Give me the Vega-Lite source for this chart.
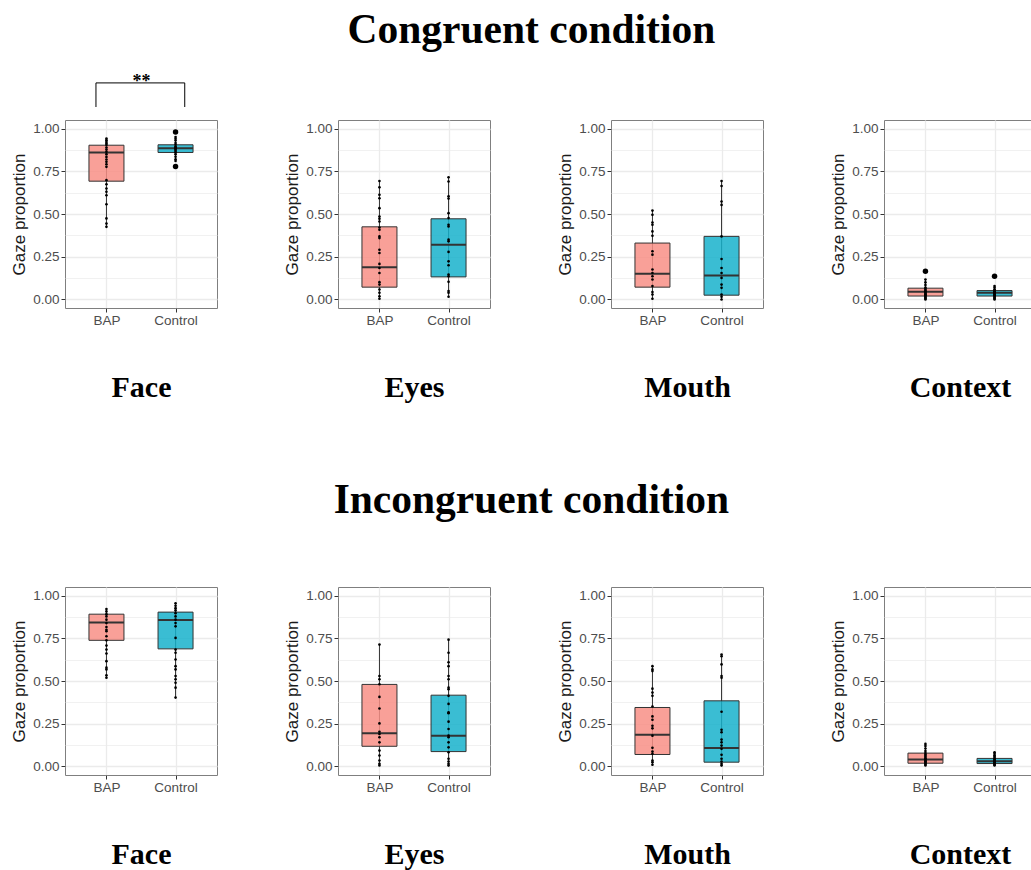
{
"$schema": "https://vega.github.io/schema/vega-lite/v6.json",
"background": "white",
"padding": {"left": 10, "top": 9, "right": 0, "bottom": 0},
"config": {
 "view": {"stroke": "#7f7f7f", "strokeWidth": 1},
 "axis": {"domain": false, "tickColor": "#333333", "tickSize": 4, "tickWidth": 1, "labelFont": "Liberation Sans", "labelFontSize": 13.5, "labelColor": "#4d4d4d", "gridColor": "#EBEBEB", "gridWidth": 1.3},
 "axisX": {"labelPadding": 1, "titleFont": "Liberation Serif", "titleFontSize": 30, "titleFontWeight": "bold", "titleColor": "#000000", "titlePadding": 46},
 "axisY": {"labelPadding": 2, "titleFont": "Liberation Sans", "titleFontSize": 17, "titleFontWeight": "normal", "titleColor": "#1a1a1a", "titlePadding": 4},
 "title": {"font": "Liberation Serif", "fontSize": 41.5, "fontWeight": "bold", "color": "#000000", "anchor": "middle"}
},
"datasets": {
 "box": [
  {"c":"Congruent","r":"Face","g":"BAP","lo":0.425,"q1":0.692,"med":0.86,"q3":0.9025,"hi":0.94},
  {"c":"Congruent","r":"Face","g":"Control","lo":0.81,"q1":0.86,"med":0.885,"q3":0.905,"hi":0.955},
  {"c":"Congruent","r":"Eyes","g":"BAP","lo":0.0,"q1":0.072,"med":0.188,"q3":0.425,"hi":0.693},
  {"c":"Congruent","r":"Eyes","g":"Control","lo":0.016,"q1":0.132,"med":0.32,"q3":0.472,"hi":0.715},
  {"c":"Congruent","r":"Mouth","g":"BAP","lo":0.0,"q1":0.072,"med":0.15,"q3":0.33,"hi":0.52},
  {"c":"Congruent","r":"Mouth","g":"Control","lo":0.0,"q1":0.025,"med":0.14,"q3":0.369,"hi":0.693},
  {"c":"Congruent","r":"Context","g":"BAP","lo":0.0,"q1":0.02,"med":0.045,"q3":0.066,"hi":0.117},
  {"c":"Congruent","r":"Context","g":"Control","lo":0.0,"q1":0.02,"med":0.039,"q3":0.052,"hi":0.078},
  {"c":"Incongruent","r":"Face","g":"BAP","lo":0.519,"q1":0.738,"med":0.843,"q3":0.891,"hi":0.92},
  {"c":"Incongruent","r":"Face","g":"Control","lo":0.403,"q1":0.688,"med":0.857,"q3":0.903,"hi":0.955},
  {"c":"Incongruent","r":"Eyes","g":"BAP","lo":0.006,"q1":0.118,"med":0.194,"q3":0.48,"hi":0.713},
  {"c":"Incongruent","r":"Eyes","g":"Control","lo":0.0,"q1":0.087,"med":0.18,"q3":0.417,"hi":0.742},
  {"c":"Incongruent","r":"Mouth","g":"BAP","lo":0.006,"q1":0.07,"med":0.186,"q3":0.345,"hi":0.587},
  {"c":"Incongruent","r":"Mouth","g":"Control","lo":0.0,"q1":0.025,"med":0.108,"q3":0.384,"hi":0.655},
  {"c":"Incongruent","r":"Context","g":"BAP","lo":0.006,"q1":0.019,"med":0.041,"q3":0.078,"hi":0.132},
  {"c":"Incongruent","r":"Context","g":"Control","lo":0.006,"q1":0.017,"med":0.031,"q3":0.047,"hi":0.083}
 ],
 "out": [
  {"c":"Congruent","r":"Face","g":"Control","v":0.98},
  {"c":"Congruent","r":"Face","g":"Control","v":0.778},
  {"c":"Congruent","r":"Context","g":"BAP","v":0.165},
  {"c":"Congruent","r":"Context","g":"Control","v":0.136}
 ],
 "sig": [
  {"a":"BAP","b":"Control","top":1.267,"bot":1.126,"lab":"**"}
 ],
 "pts": [
  {"c":"Congruent","r":"Face","g":"BAP","v":0.942},{"c":"Congruent","r":"Face","g":"BAP","v":0.932},{"c":"Congruent","r":"Face","g":"BAP","v":0.922},{"c":"Congruent","r":"Face","g":"BAP","v":0.912},{"c":"Congruent","r":"Face","g":"BAP","v":0.903},{"c":"Congruent","r":"Face","g":"BAP","v":0.889},{"c":"Congruent","r":"Face","g":"BAP","v":0.877},{"c":"Congruent","r":"Face","g":"BAP","v":0.864},{"c":"Congruent","r":"Face","g":"BAP","v":0.85},{"c":"Congruent","r":"Face","g":"BAP","v":0.834},{"c":"Congruent","r":"Face","g":"BAP","v":0.819},{"c":"Congruent","r":"Face","g":"BAP","v":0.805},{"c":"Congruent","r":"Face","g":"BAP","v":0.791},{"c":"Congruent","r":"Face","g":"BAP","v":0.776},{"c":"Congruent","r":"Face","g":"BAP","v":0.698},{"c":"Congruent","r":"Face","g":"BAP","v":0.674},{"c":"Congruent","r":"Face","g":"BAP","v":0.649},{"c":"Congruent","r":"Face","g":"BAP","v":0.63},{"c":"Congruent","r":"Face","g":"BAP","v":0.61},{"c":"Congruent","r":"Face","g":"BAP","v":0.557},{"c":"Congruent","r":"Face","g":"BAP","v":0.474},{"c":"Congruent","r":"Face","g":"BAP","v":0.444},{"c":"Congruent","r":"Face","g":"BAP","v":0.425},
  {"c":"Congruent","r":"Face","g":"Control","v":0.98},{"c":"Congruent","r":"Face","g":"Control","v":0.95},{"c":"Congruent","r":"Face","g":"Control","v":0.94},{"c":"Congruent","r":"Face","g":"Control","v":0.93},{"c":"Congruent","r":"Face","g":"Control","v":0.915},{"c":"Congruent","r":"Face","g":"Control","v":0.905},{"c":"Congruent","r":"Face","g":"Control","v":0.895},{"c":"Congruent","r":"Face","g":"Control","v":0.89},{"c":"Congruent","r":"Face","g":"Control","v":0.885},{"c":"Congruent","r":"Face","g":"Control","v":0.878},{"c":"Congruent","r":"Face","g":"Control","v":0.87},{"c":"Congruent","r":"Face","g":"Control","v":0.862},{"c":"Congruent","r":"Face","g":"Control","v":0.85},{"c":"Congruent","r":"Face","g":"Control","v":0.835},{"c":"Congruent","r":"Face","g":"Control","v":0.82},{"c":"Congruent","r":"Face","g":"Control","v":0.81},{"c":"Congruent","r":"Face","g":"Control","v":0.778},
  {"c":"Congruent","r":"Eyes","g":"BAP","v":0.693},{"c":"Congruent","r":"Eyes","g":"BAP","v":0.656},{"c":"Congruent","r":"Eyes","g":"BAP","v":0.612},{"c":"Congruent","r":"Eyes","g":"BAP","v":0.592},{"c":"Congruent","r":"Eyes","g":"BAP","v":0.534},{"c":"Congruent","r":"Eyes","g":"BAP","v":0.485},{"c":"Congruent","r":"Eyes","g":"BAP","v":0.472},{"c":"Congruent","r":"Eyes","g":"BAP","v":0.456},{"c":"Congruent","r":"Eyes","g":"BAP","v":0.421},{"c":"Congruent","r":"Eyes","g":"BAP","v":0.408},{"c":"Congruent","r":"Eyes","g":"BAP","v":0.369},{"c":"Congruent","r":"Eyes","g":"BAP","v":0.359},{"c":"Congruent","r":"Eyes","g":"BAP","v":0.291},{"c":"Congruent","r":"Eyes","g":"BAP","v":0.272},{"c":"Congruent","r":"Eyes","g":"BAP","v":0.208},{"c":"Congruent","r":"Eyes","g":"BAP","v":0.184},{"c":"Congruent","r":"Eyes","g":"BAP","v":0.155},{"c":"Congruent","r":"Eyes","g":"BAP","v":0.101},{"c":"Congruent","r":"Eyes","g":"BAP","v":0.087},{"c":"Congruent","r":"Eyes","g":"BAP","v":0.058},{"c":"Congruent","r":"Eyes","g":"BAP","v":0.039},{"c":"Congruent","r":"Eyes","g":"BAP","v":0.019},{"c":"Congruent","r":"Eyes","g":"BAP","v":0.004},
  {"c":"Congruent","r":"Eyes","g":"Control","v":0.715},{"c":"Congruent","r":"Eyes","g":"Control","v":0.69},{"c":"Congruent","r":"Eyes","g":"Control","v":0.604},{"c":"Congruent","r":"Eyes","g":"Control","v":0.59},{"c":"Congruent","r":"Eyes","g":"Control","v":0.505},{"c":"Congruent","r":"Eyes","g":"Control","v":0.476},{"c":"Congruent","r":"Eyes","g":"Control","v":0.437},{"c":"Congruent","r":"Eyes","g":"Control","v":0.427},{"c":"Congruent","r":"Eyes","g":"Control","v":0.35},{"c":"Congruent","r":"Eyes","g":"Control","v":0.34},{"c":"Congruent","r":"Eyes","g":"Control","v":0.278},{"c":"Congruent","r":"Eyes","g":"Control","v":0.223},{"c":"Congruent","r":"Eyes","g":"Control","v":0.2},{"c":"Congruent","r":"Eyes","g":"Control","v":0.146},{"c":"Congruent","r":"Eyes","g":"Control","v":0.136},{"c":"Congruent","r":"Eyes","g":"Control","v":0.103},{"c":"Congruent","r":"Eyes","g":"Control","v":0.049},{"c":"Congruent","r":"Eyes","g":"Control","v":0.039},{"c":"Congruent","r":"Eyes","g":"Control","v":0.016},
  {"c":"Congruent","r":"Mouth","g":"BAP","v":0.52},{"c":"Congruent","r":"Mouth","g":"BAP","v":0.495},{"c":"Congruent","r":"Mouth","g":"BAP","v":0.45},{"c":"Congruent","r":"Mouth","g":"BAP","v":0.437},{"c":"Congruent","r":"Mouth","g":"BAP","v":0.398},{"c":"Congruent","r":"Mouth","g":"BAP","v":0.373},{"c":"Congruent","r":"Mouth","g":"BAP","v":0.282},{"c":"Congruent","r":"Mouth","g":"BAP","v":0.262},{"c":"Congruent","r":"Mouth","g":"BAP","v":0.175},{"c":"Congruent","r":"Mouth","g":"BAP","v":0.155},{"c":"Congruent","r":"Mouth","g":"BAP","v":0.136},{"c":"Congruent","r":"Mouth","g":"BAP","v":0.117},{"c":"Congruent","r":"Mouth","g":"BAP","v":0.078},{"c":"Congruent","r":"Mouth","g":"BAP","v":0.043},{"c":"Congruent","r":"Mouth","g":"BAP","v":0.029},{"c":"Congruent","r":"Mouth","g":"BAP","v":0.004},
  {"c":"Congruent","r":"Mouth","g":"Control","v":0.693},{"c":"Congruent","r":"Mouth","g":"Control","v":0.664},{"c":"Congruent","r":"Mouth","g":"Control","v":0.573},{"c":"Congruent","r":"Mouth","g":"Control","v":0.553},{"c":"Congruent","r":"Mouth","g":"Control","v":0.369},{"c":"Congruent","r":"Mouth","g":"Control","v":0.237},{"c":"Congruent","r":"Mouth","g":"Control","v":0.184},{"c":"Congruent","r":"Mouth","g":"Control","v":0.155},{"c":"Congruent","r":"Mouth","g":"Control","v":0.126},{"c":"Congruent","r":"Mouth","g":"Control","v":0.087},{"c":"Congruent","r":"Mouth","g":"Control","v":0.068},{"c":"Congruent","r":"Mouth","g":"Control","v":0.029},{"c":"Congruent","r":"Mouth","g":"Control","v":0.016},{"c":"Congruent","r":"Mouth","g":"Control","v":0.0},
  {"c":"Congruent","r":"Context","g":"BAP","v":0.165},{"c":"Congruent","r":"Context","g":"BAP","v":0.117},{"c":"Congruent","r":"Context","g":"BAP","v":0.1},{"c":"Congruent","r":"Context","g":"BAP","v":0.085},{"c":"Congruent","r":"Context","g":"BAP","v":0.07},{"c":"Congruent","r":"Context","g":"BAP","v":0.062},{"c":"Congruent","r":"Context","g":"BAP","v":0.055},{"c":"Congruent","r":"Context","g":"BAP","v":0.05},{"c":"Congruent","r":"Context","g":"BAP","v":0.045},{"c":"Congruent","r":"Context","g":"BAP","v":0.04},{"c":"Congruent","r":"Context","g":"BAP","v":0.035},{"c":"Congruent","r":"Context","g":"BAP","v":0.03},{"c":"Congruent","r":"Context","g":"BAP","v":0.025},{"c":"Congruent","r":"Context","g":"BAP","v":0.02},{"c":"Congruent","r":"Context","g":"BAP","v":0.015},{"c":"Congruent","r":"Context","g":"BAP","v":0.01},{"c":"Congruent","r":"Context","g":"BAP","v":0.005},{"c":"Congruent","r":"Context","g":"BAP","v":0.0},
  {"c":"Congruent","r":"Context","g":"Control","v":0.136},{"c":"Congruent","r":"Context","g":"Control","v":0.078},{"c":"Congruent","r":"Context","g":"Control","v":0.07},{"c":"Congruent","r":"Context","g":"Control","v":0.06},{"c":"Congruent","r":"Context","g":"Control","v":0.052},{"c":"Congruent","r":"Context","g":"Control","v":0.048},{"c":"Congruent","r":"Context","g":"Control","v":0.044},{"c":"Congruent","r":"Context","g":"Control","v":0.04},{"c":"Congruent","r":"Context","g":"Control","v":0.036},{"c":"Congruent","r":"Context","g":"Control","v":0.032},{"c":"Congruent","r":"Context","g":"Control","v":0.028},{"c":"Congruent","r":"Context","g":"Control","v":0.024},{"c":"Congruent","r":"Context","g":"Control","v":0.02},{"c":"Congruent","r":"Context","g":"Control","v":0.015},{"c":"Congruent","r":"Context","g":"Control","v":0.01},{"c":"Congruent","r":"Context","g":"Control","v":0.005},{"c":"Congruent","r":"Context","g":"Control","v":0.0},
  {"c":"Incongruent","r":"Face","g":"BAP","v":0.921},{"c":"Incongruent","r":"Face","g":"BAP","v":0.907},{"c":"Incongruent","r":"Face","g":"BAP","v":0.891},{"c":"Incongruent","r":"Face","g":"BAP","v":0.878},{"c":"Incongruent","r":"Face","g":"BAP","v":0.859},{"c":"Incongruent","r":"Face","g":"BAP","v":0.839},{"c":"Incongruent","r":"Face","g":"BAP","v":0.816},{"c":"Incongruent","r":"Face","g":"BAP","v":0.8},{"c":"Incongruent","r":"Face","g":"BAP","v":0.791},{"c":"Incongruent","r":"Face","g":"BAP","v":0.762},{"c":"Incongruent","r":"Face","g":"BAP","v":0.738},{"c":"Incongruent","r":"Face","g":"BAP","v":0.707},{"c":"Incongruent","r":"Face","g":"BAP","v":0.684},{"c":"Incongruent","r":"Face","g":"BAP","v":0.661},{"c":"Incongruent","r":"Face","g":"BAP","v":0.616},{"c":"Incongruent","r":"Face","g":"BAP","v":0.578},{"c":"Incongruent","r":"Face","g":"BAP","v":0.568},{"c":"Incongruent","r":"Face","g":"BAP","v":0.533},{"c":"Incongruent","r":"Face","g":"BAP","v":0.519},
  {"c":"Incongruent","r":"Face","g":"Control","v":0.955},{"c":"Incongruent","r":"Face","g":"Control","v":0.94},{"c":"Incongruent","r":"Face","g":"Control","v":0.926},{"c":"Incongruent","r":"Face","g":"Control","v":0.913},{"c":"Incongruent","r":"Face","g":"Control","v":0.897},{"c":"Incongruent","r":"Face","g":"Control","v":0.878},{"c":"Incongruent","r":"Face","g":"Control","v":0.859},{"c":"Incongruent","r":"Face","g":"Control","v":0.839},{"c":"Incongruent","r":"Face","g":"Control","v":0.82},{"c":"Incongruent","r":"Face","g":"Control","v":0.752},{"c":"Incongruent","r":"Face","g":"Control","v":0.684},{"c":"Incongruent","r":"Face","g":"Control","v":0.665},{"c":"Incongruent","r":"Face","g":"Control","v":0.626},{"c":"Incongruent","r":"Face","g":"Control","v":0.587},{"c":"Incongruent","r":"Face","g":"Control","v":0.568},{"c":"Incongruent","r":"Face","g":"Control","v":0.529},{"c":"Incongruent","r":"Face","g":"Control","v":0.51},{"c":"Incongruent","r":"Face","g":"Control","v":0.49},{"c":"Incongruent","r":"Face","g":"Control","v":0.461},{"c":"Incongruent","r":"Face","g":"Control","v":0.403},
  {"c":"Incongruent","r":"Eyes","g":"BAP","v":0.713},{"c":"Incongruent","r":"Eyes","g":"BAP","v":0.529},{"c":"Incongruent","r":"Eyes","g":"BAP","v":0.51},{"c":"Incongruent","r":"Eyes","g":"BAP","v":0.481},{"c":"Incongruent","r":"Eyes","g":"BAP","v":0.407},{"c":"Incongruent","r":"Eyes","g":"BAP","v":0.339},{"c":"Incongruent","r":"Eyes","g":"BAP","v":0.252},{"c":"Incongruent","r":"Eyes","g":"BAP","v":0.203},{"c":"Incongruent","r":"Eyes","g":"BAP","v":0.19},{"c":"Incongruent","r":"Eyes","g":"BAP","v":0.171},{"c":"Incongruent","r":"Eyes","g":"BAP","v":0.141},{"c":"Incongruent","r":"Eyes","g":"BAP","v":0.093},{"c":"Incongruent","r":"Eyes","g":"BAP","v":0.064},{"c":"Incongruent","r":"Eyes","g":"BAP","v":0.035},{"c":"Incongruent","r":"Eyes","g":"BAP","v":0.016},{"c":"Incongruent","r":"Eyes","g":"BAP","v":0.006},
  {"c":"Incongruent","r":"Eyes","g":"Control","v":0.742},{"c":"Incongruent","r":"Eyes","g":"Control","v":0.665},{"c":"Incongruent","r":"Eyes","g":"Control","v":0.61},{"c":"Incongruent","r":"Eyes","g":"Control","v":0.587},{"c":"Incongruent","r":"Eyes","g":"Control","v":0.529},{"c":"Incongruent","r":"Eyes","g":"Control","v":0.51},{"c":"Incongruent","r":"Eyes","g":"Control","v":0.461},{"c":"Incongruent","r":"Eyes","g":"Control","v":0.452},{"c":"Incongruent","r":"Eyes","g":"Control","v":0.413},{"c":"Incongruent","r":"Eyes","g":"Control","v":0.366},{"c":"Incongruent","r":"Eyes","g":"Control","v":0.316},{"c":"Incongruent","r":"Eyes","g":"Control","v":0.312},{"c":"Incongruent","r":"Eyes","g":"Control","v":0.262},{"c":"Incongruent","r":"Eyes","g":"Control","v":0.219},{"c":"Incongruent","r":"Eyes","g":"Control","v":0.18},{"c":"Incongruent","r":"Eyes","g":"Control","v":0.171},{"c":"Incongruent","r":"Eyes","g":"Control","v":0.141},{"c":"Incongruent","r":"Eyes","g":"Control","v":0.112},{"c":"Incongruent","r":"Eyes","g":"Control","v":0.083},{"c":"Incongruent","r":"Eyes","g":"Control","v":0.045},{"c":"Incongruent","r":"Eyes","g":"Control","v":0.029},{"c":"Incongruent","r":"Eyes","g":"Control","v":0.016},{"c":"Incongruent","r":"Eyes","g":"Control","v":0.006},
  {"c":"Incongruent","r":"Mouth","g":"BAP","v":0.587},{"c":"Incongruent","r":"Mouth","g":"BAP","v":0.568},{"c":"Incongruent","r":"Mouth","g":"BAP","v":0.558},{"c":"Incongruent","r":"Mouth","g":"BAP","v":0.455},{"c":"Incongruent","r":"Mouth","g":"BAP","v":0.432},{"c":"Incongruent","r":"Mouth","g":"BAP","v":0.413},{"c":"Incongruent","r":"Mouth","g":"BAP","v":0.351},{"c":"Incongruent","r":"Mouth","g":"BAP","v":0.293},{"c":"Incongruent","r":"Mouth","g":"BAP","v":0.273},{"c":"Incongruent","r":"Mouth","g":"BAP","v":0.238},{"c":"Incongruent","r":"Mouth","g":"BAP","v":0.223},{"c":"Incongruent","r":"Mouth","g":"BAP","v":0.18},{"c":"Incongruent","r":"Mouth","g":"BAP","v":0.109},{"c":"Incongruent","r":"Mouth","g":"BAP","v":0.087},{"c":"Incongruent","r":"Mouth","g":"BAP","v":0.074},{"c":"Incongruent","r":"Mouth","g":"BAP","v":0.035},{"c":"Incongruent","r":"Mouth","g":"BAP","v":0.025},{"c":"Incongruent","r":"Mouth","g":"BAP","v":0.01},
  {"c":"Incongruent","r":"Mouth","g":"Control","v":0.655},{"c":"Incongruent","r":"Mouth","g":"Control","v":0.645},{"c":"Incongruent","r":"Mouth","g":"Control","v":0.597},{"c":"Incongruent","r":"Mouth","g":"Control","v":0.529},{"c":"Incongruent","r":"Mouth","g":"Control","v":0.519},{"c":"Incongruent","r":"Mouth","g":"Control","v":0.32},{"c":"Incongruent","r":"Mouth","g":"Control","v":0.215},{"c":"Incongruent","r":"Mouth","g":"Control","v":0.2},{"c":"Incongruent","r":"Mouth","g":"Control","v":0.157},{"c":"Incongruent","r":"Mouth","g":"Control","v":0.141},{"c":"Incongruent","r":"Mouth","g":"Control","v":0.122},{"c":"Incongruent","r":"Mouth","g":"Control","v":0.103},{"c":"Incongruent","r":"Mouth","g":"Control","v":0.068},{"c":"Incongruent","r":"Mouth","g":"Control","v":0.045},{"c":"Incongruent","r":"Mouth","g":"Control","v":0.029},{"c":"Incongruent","r":"Mouth","g":"Control","v":0.016},{"c":"Incongruent","r":"Mouth","g":"Control","v":0.006},
  {"c":"Incongruent","r":"Context","g":"BAP","v":0.132},{"c":"Incongruent","r":"Context","g":"BAP","v":0.12},{"c":"Incongruent","r":"Context","g":"BAP","v":0.105},{"c":"Incongruent","r":"Context","g":"BAP","v":0.09},{"c":"Incongruent","r":"Context","g":"BAP","v":0.078},{"c":"Incongruent","r":"Context","g":"BAP","v":0.07},{"c":"Incongruent","r":"Context","g":"BAP","v":0.062},{"c":"Incongruent","r":"Context","g":"BAP","v":0.055},{"c":"Incongruent","r":"Context","g":"BAP","v":0.048},{"c":"Incongruent","r":"Context","g":"BAP","v":0.041},{"c":"Incongruent","r":"Context","g":"BAP","v":0.035},{"c":"Incongruent","r":"Context","g":"BAP","v":0.03},{"c":"Incongruent","r":"Context","g":"BAP","v":0.025},{"c":"Incongruent","r":"Context","g":"BAP","v":0.019},{"c":"Incongruent","r":"Context","g":"BAP","v":0.012},{"c":"Incongruent","r":"Context","g":"BAP","v":0.006},
  {"c":"Incongruent","r":"Context","g":"Control","v":0.083},{"c":"Incongruent","r":"Context","g":"Control","v":0.075},{"c":"Incongruent","r":"Context","g":"Control","v":0.065},{"c":"Incongruent","r":"Context","g":"Control","v":0.058},{"c":"Incongruent","r":"Context","g":"Control","v":0.05},{"c":"Incongruent","r":"Context","g":"Control","v":0.045},{"c":"Incongruent","r":"Context","g":"Control","v":0.04},{"c":"Incongruent","r":"Context","g":"Control","v":0.035},{"c":"Incongruent","r":"Context","g":"Control","v":0.031},{"c":"Incongruent","r":"Context","g":"Control","v":0.027},{"c":"Incongruent","r":"Context","g":"Control","v":0.023},{"c":"Incongruent","r":"Context","g":"Control","v":0.019},{"c":"Incongruent","r":"Context","g":"Control","v":0.015},{"c":"Incongruent","r":"Context","g":"Control","v":0.01},{"c":"Incongruent","r":"Context","g":"Control","v":0.006}
 ]
},
"bounds": "flush",
"spacing": 467,
"vconcat": [
 {"title": {"text": "Congruent condition", "offset": 21, "dx": 8},
  "bounds": "flush", "spacing": 121,
  "hconcat": [
   {"width":152,"height":188,"layer":[
    {"data":{"name":"box"},"transform":[{"filter":"datum.c=='Congruent' && datum.r=='Face'"}],"mark":{"type":"rule","color":"#333333","strokeWidth":1},"encoding":{"x":{"field":"g","type":"nominal","scale":{"type":"point","padding":0.6,"domain":["BAP","Control"]},"axis":{"title":"Face","labelAngle":0,"grid":true}},"y":{"field":"lo","type":"quantitative","scale":{"domain":[-0.05,1.05],"nice":false,"zero":false},"axis":{"title":"Gaze proportion","values":[0,0.25,0.5,0.75,1],"format":".2f","grid":true}},"y2":{"field":"hi"}}},
    {"data":{"name":"box"},"transform":[{"filter":"datum.c=='Congruent' && datum.r=='Face'"}],"mark":{"type":"bar","width":35,"stroke":"#333333","strokeWidth":1,"fillOpacity":0.85},"encoding":{"x":{"field":"g","type":"nominal"},"y":{"field":"q1","type":"quantitative","axis":{"orient":"left","values":[0.125,0.375,0.625,0.875],"grid":true,"gridWidth":0.7,"labels":false,"ticks":false,"domain":false,"title":null}},"y2":{"field":"q3"},"fill":{"field":"g","type":"nominal","scale":{"domain":["BAP","Control"],"range":["#F88F86","#18B2CB"]},"legend":null}}},
    {"data":{"name":"box"},"transform":[{"filter":"datum.c=='Congruent' && datum.r=='Face'"}],"mark":{"type":"tick","size":35,"thickness":2,"color":"#333333","opacity":1},"encoding":{"x":{"field":"g","type":"nominal"},"y":{"field":"med","type":"quantitative","axis":null}}},
    {"data":{"name":"out"},"transform":[{"filter":"datum.c=='Congruent' && datum.r=='Face'"}],"mark":{"type":"circle","size":30,"color":"#000000","opacity":1},"encoding":{"x":{"field":"g","type":"nominal"},"y":{"field":"v","type":"quantitative","axis":null}}},
    {"data":{"name":"pts"},"transform":[{"filter":"datum.c=='Congruent' && datum.r=='Face'"}],"mark":{"type":"circle","size":7,"color":"#000000","opacity":1},"encoding":{"x":{"field":"g","type":"nominal"},"y":{"field":"v","type":"quantitative","axis":null}}},
    {"data":{"name":"sig"},"mark":{"type":"rule","color":"#000000","strokeWidth":1,"xOffset":-10.5,"x2Offset":9.2},"encoding":{"x":{"field":"a","type":"nominal"},"x2":{"field":"b"},"y":{"field":"top","type":"quantitative","axis":null}}},
    {"data":{"name":"sig"},"mark":{"type":"rule","color":"#000000","strokeWidth":1,"xOffset":-10.5},"encoding":{"x":{"field":"a","type":"nominal"},"y":{"field":"bot","type":"quantitative","axis":null},"y2":{"field":"top"}}},
    {"data":{"name":"sig"},"mark":{"type":"rule","color":"#000000","strokeWidth":1,"xOffset":9.2},"encoding":{"x":{"field":"b","type":"nominal"},"y":{"field":"bot","type":"quantitative","axis":null},"y2":{"field":"top"}}},
    {"data":{"name":"sig"},"mark":{"type":"text","font":"Liberation Serif","fontWeight":"bold","fontSize":18,"dx":35,"dy":4,"baseline":"alphabetic","align":"center","color":"#000000"},"encoding":{"x":{"field":"a","type":"nominal"},"y":{"field":"top","type":"quantitative","axis":null},"text":{"field":"lab"}}}
   ],"resolve":{"axis":{"y":"independent"}}},
   {"width":152,"height":188,"layer":[
    {"data":{"name":"box"},"transform":[{"filter":"datum.c=='Congruent' && datum.r=='Eyes'"}],"mark":{"type":"rule","color":"#333333","strokeWidth":1},"encoding":{"x":{"field":"g","type":"nominal","scale":{"type":"point","padding":0.6,"domain":["BAP","Control"]},"axis":{"title":"Eyes","labelAngle":0,"grid":true}},"y":{"field":"lo","type":"quantitative","scale":{"domain":[-0.05,1.05],"nice":false,"zero":false},"axis":{"title":"Gaze proportion","values":[0,0.25,0.5,0.75,1],"format":".2f","grid":true}},"y2":{"field":"hi"}}},
    {"data":{"name":"box"},"transform":[{"filter":"datum.c=='Congruent' && datum.r=='Eyes'"}],"mark":{"type":"bar","width":35,"stroke":"#333333","strokeWidth":1,"fillOpacity":0.85},"encoding":{"x":{"field":"g","type":"nominal"},"y":{"field":"q1","type":"quantitative","axis":{"orient":"left","values":[0.125,0.375,0.625,0.875],"grid":true,"gridWidth":0.7,"labels":false,"ticks":false,"domain":false,"title":null}},"y2":{"field":"q3"},"fill":{"field":"g","type":"nominal","scale":{"domain":["BAP","Control"],"range":["#F88F86","#18B2CB"]},"legend":null}}},
    {"data":{"name":"box"},"transform":[{"filter":"datum.c=='Congruent' && datum.r=='Eyes'"}],"mark":{"type":"tick","size":35,"thickness":2,"color":"#333333","opacity":1},"encoding":{"x":{"field":"g","type":"nominal"},"y":{"field":"med","type":"quantitative","axis":null}}},
    {"data":{"name":"out"},"transform":[{"filter":"datum.c=='Congruent' && datum.r=='Eyes'"}],"mark":{"type":"circle","size":30,"color":"#000000","opacity":1},"encoding":{"x":{"field":"g","type":"nominal"},"y":{"field":"v","type":"quantitative","axis":null}}},
    {"data":{"name":"pts"},"transform":[{"filter":"datum.c=='Congruent' && datum.r=='Eyes'"}],"mark":{"type":"circle","size":7,"color":"#000000","opacity":1},"encoding":{"x":{"field":"g","type":"nominal"},"y":{"field":"v","type":"quantitative","axis":null}}}
   ],"resolve":{"axis":{"y":"independent"}}},
   {"width":152,"height":188,"layer":[
    {"data":{"name":"box"},"transform":[{"filter":"datum.c=='Congruent' && datum.r=='Mouth'"}],"mark":{"type":"rule","color":"#333333","strokeWidth":1},"encoding":{"x":{"field":"g","type":"nominal","scale":{"type":"point","padding":0.6,"domain":["BAP","Control"]},"axis":{"title":"Mouth","labelAngle":0,"grid":true}},"y":{"field":"lo","type":"quantitative","scale":{"domain":[-0.05,1.05],"nice":false,"zero":false},"axis":{"title":"Gaze proportion","values":[0,0.25,0.5,0.75,1],"format":".2f","grid":true}},"y2":{"field":"hi"}}},
    {"data":{"name":"box"},"transform":[{"filter":"datum.c=='Congruent' && datum.r=='Mouth'"}],"mark":{"type":"bar","width":35,"stroke":"#333333","strokeWidth":1,"fillOpacity":0.85},"encoding":{"x":{"field":"g","type":"nominal"},"y":{"field":"q1","type":"quantitative","axis":{"orient":"left","values":[0.125,0.375,0.625,0.875],"grid":true,"gridWidth":0.7,"labels":false,"ticks":false,"domain":false,"title":null}},"y2":{"field":"q3"},"fill":{"field":"g","type":"nominal","scale":{"domain":["BAP","Control"],"range":["#F88F86","#18B2CB"]},"legend":null}}},
    {"data":{"name":"box"},"transform":[{"filter":"datum.c=='Congruent' && datum.r=='Mouth'"}],"mark":{"type":"tick","size":35,"thickness":2,"color":"#333333","opacity":1},"encoding":{"x":{"field":"g","type":"nominal"},"y":{"field":"med","type":"quantitative","axis":null}}},
    {"data":{"name":"out"},"transform":[{"filter":"datum.c=='Congruent' && datum.r=='Mouth'"}],"mark":{"type":"circle","size":30,"color":"#000000","opacity":1},"encoding":{"x":{"field":"g","type":"nominal"},"y":{"field":"v","type":"quantitative","axis":null}}},
    {"data":{"name":"pts"},"transform":[{"filter":"datum.c=='Congruent' && datum.r=='Mouth'"}],"mark":{"type":"circle","size":7,"color":"#000000","opacity":1},"encoding":{"x":{"field":"g","type":"nominal"},"y":{"field":"v","type":"quantitative","axis":null}}}
   ],"resolve":{"axis":{"y":"independent"}}},
   {"width":152,"height":188,"layer":[
    {"data":{"name":"box"},"transform":[{"filter":"datum.c=='Congruent' && datum.r=='Context'"}],"mark":{"type":"rule","color":"#333333","strokeWidth":1},"encoding":{"x":{"field":"g","type":"nominal","scale":{"type":"point","padding":0.6,"domain":["BAP","Control"]},"axis":{"title":"Context","labelAngle":0,"grid":true}},"y":{"field":"lo","type":"quantitative","scale":{"domain":[-0.05,1.05],"nice":false,"zero":false},"axis":{"title":"Gaze proportion","values":[0,0.25,0.5,0.75,1],"format":".2f","grid":true}},"y2":{"field":"hi"}}},
    {"data":{"name":"box"},"transform":[{"filter":"datum.c=='Congruent' && datum.r=='Context'"}],"mark":{"type":"bar","width":35,"stroke":"#333333","strokeWidth":1,"fillOpacity":0.85},"encoding":{"x":{"field":"g","type":"nominal"},"y":{"field":"q1","type":"quantitative","axis":{"orient":"left","values":[0.125,0.375,0.625,0.875],"grid":true,"gridWidth":0.7,"labels":false,"ticks":false,"domain":false,"title":null}},"y2":{"field":"q3"},"fill":{"field":"g","type":"nominal","scale":{"domain":["BAP","Control"],"range":["#F88F86","#18B2CB"]},"legend":null}}},
    {"data":{"name":"box"},"transform":[{"filter":"datum.c=='Congruent' && datum.r=='Context'"}],"mark":{"type":"tick","size":35,"thickness":2,"color":"#333333","opacity":1},"encoding":{"x":{"field":"g","type":"nominal"},"y":{"field":"med","type":"quantitative","axis":null}}},
    {"data":{"name":"out"},"transform":[{"filter":"datum.c=='Congruent' && datum.r=='Context'"}],"mark":{"type":"circle","size":30,"color":"#000000","opacity":1},"encoding":{"x":{"field":"g","type":"nominal"},"y":{"field":"v","type":"quantitative","axis":null}}},
    {"data":{"name":"pts"},"transform":[{"filter":"datum.c=='Congruent' && datum.r=='Context'"}],"mark":{"type":"circle","size":7,"color":"#000000","opacity":1},"encoding":{"x":{"field":"g","type":"nominal"},"y":{"field":"v","type":"quantitative","axis":null}}}
   ],"resolve":{"axis":{"y":"independent"}}}
  ]},
 {"title": {"text": "Incongruent condition", "offset": 65, "dx": 8},
  "bounds": "flush", "spacing": 121,
  "hconcat": [
   {"width":152,"height":188,"layer":[
    {"data":{"name":"box"},"transform":[{"filter":"datum.c=='Incongruent' && datum.r=='Face'"}],"mark":{"type":"rule","color":"#333333","strokeWidth":1},"encoding":{"x":{"field":"g","type":"nominal","scale":{"type":"point","padding":0.6,"domain":["BAP","Control"]},"axis":{"title":"Face","labelAngle":0,"grid":true}},"y":{"field":"lo","type":"quantitative","scale":{"domain":[-0.05,1.05],"nice":false,"zero":false},"axis":{"title":"Gaze proportion","values":[0,0.25,0.5,0.75,1],"format":".2f","grid":true}},"y2":{"field":"hi"}}},
    {"data":{"name":"box"},"transform":[{"filter":"datum.c=='Incongruent' && datum.r=='Face'"}],"mark":{"type":"bar","width":35,"stroke":"#333333","strokeWidth":1,"fillOpacity":0.85},"encoding":{"x":{"field":"g","type":"nominal"},"y":{"field":"q1","type":"quantitative","axis":{"orient":"left","values":[0.125,0.375,0.625,0.875],"grid":true,"gridWidth":0.7,"labels":false,"ticks":false,"domain":false,"title":null}},"y2":{"field":"q3"},"fill":{"field":"g","type":"nominal","scale":{"domain":["BAP","Control"],"range":["#F88F86","#18B2CB"]},"legend":null}}},
    {"data":{"name":"box"},"transform":[{"filter":"datum.c=='Incongruent' && datum.r=='Face'"}],"mark":{"type":"tick","size":35,"thickness":2,"color":"#333333","opacity":1},"encoding":{"x":{"field":"g","type":"nominal"},"y":{"field":"med","type":"quantitative","axis":null}}},
    {"data":{"name":"out"},"transform":[{"filter":"datum.c=='Incongruent' && datum.r=='Face'"}],"mark":{"type":"circle","size":30,"color":"#000000","opacity":1},"encoding":{"x":{"field":"g","type":"nominal"},"y":{"field":"v","type":"quantitative","axis":null}}},
    {"data":{"name":"pts"},"transform":[{"filter":"datum.c=='Incongruent' && datum.r=='Face'"}],"mark":{"type":"circle","size":7,"color":"#000000","opacity":1},"encoding":{"x":{"field":"g","type":"nominal"},"y":{"field":"v","type":"quantitative","axis":null}}}
   ],"resolve":{"axis":{"y":"independent"}}},
   {"width":152,"height":188,"layer":[
    {"data":{"name":"box"},"transform":[{"filter":"datum.c=='Incongruent' && datum.r=='Eyes'"}],"mark":{"type":"rule","color":"#333333","strokeWidth":1},"encoding":{"x":{"field":"g","type":"nominal","scale":{"type":"point","padding":0.6,"domain":["BAP","Control"]},"axis":{"title":"Eyes","labelAngle":0,"grid":true}},"y":{"field":"lo","type":"quantitative","scale":{"domain":[-0.05,1.05],"nice":false,"zero":false},"axis":{"title":"Gaze proportion","values":[0,0.25,0.5,0.75,1],"format":".2f","grid":true}},"y2":{"field":"hi"}}},
    {"data":{"name":"box"},"transform":[{"filter":"datum.c=='Incongruent' && datum.r=='Eyes'"}],"mark":{"type":"bar","width":35,"stroke":"#333333","strokeWidth":1,"fillOpacity":0.85},"encoding":{"x":{"field":"g","type":"nominal"},"y":{"field":"q1","type":"quantitative","axis":{"orient":"left","values":[0.125,0.375,0.625,0.875],"grid":true,"gridWidth":0.7,"labels":false,"ticks":false,"domain":false,"title":null}},"y2":{"field":"q3"},"fill":{"field":"g","type":"nominal","scale":{"domain":["BAP","Control"],"range":["#F88F86","#18B2CB"]},"legend":null}}},
    {"data":{"name":"box"},"transform":[{"filter":"datum.c=='Incongruent' && datum.r=='Eyes'"}],"mark":{"type":"tick","size":35,"thickness":2,"color":"#333333","opacity":1},"encoding":{"x":{"field":"g","type":"nominal"},"y":{"field":"med","type":"quantitative","axis":null}}},
    {"data":{"name":"out"},"transform":[{"filter":"datum.c=='Incongruent' && datum.r=='Eyes'"}],"mark":{"type":"circle","size":30,"color":"#000000","opacity":1},"encoding":{"x":{"field":"g","type":"nominal"},"y":{"field":"v","type":"quantitative","axis":null}}},
    {"data":{"name":"pts"},"transform":[{"filter":"datum.c=='Incongruent' && datum.r=='Eyes'"}],"mark":{"type":"circle","size":7,"color":"#000000","opacity":1},"encoding":{"x":{"field":"g","type":"nominal"},"y":{"field":"v","type":"quantitative","axis":null}}}
   ],"resolve":{"axis":{"y":"independent"}}},
   {"width":152,"height":188,"layer":[
    {"data":{"name":"box"},"transform":[{"filter":"datum.c=='Incongruent' && datum.r=='Mouth'"}],"mark":{"type":"rule","color":"#333333","strokeWidth":1},"encoding":{"x":{"field":"g","type":"nominal","scale":{"type":"point","padding":0.6,"domain":["BAP","Control"]},"axis":{"title":"Mouth","labelAngle":0,"grid":true}},"y":{"field":"lo","type":"quantitative","scale":{"domain":[-0.05,1.05],"nice":false,"zero":false},"axis":{"title":"Gaze proportion","values":[0,0.25,0.5,0.75,1],"format":".2f","grid":true}},"y2":{"field":"hi"}}},
    {"data":{"name":"box"},"transform":[{"filter":"datum.c=='Incongruent' && datum.r=='Mouth'"}],"mark":{"type":"bar","width":35,"stroke":"#333333","strokeWidth":1,"fillOpacity":0.85},"encoding":{"x":{"field":"g","type":"nominal"},"y":{"field":"q1","type":"quantitative","axis":{"orient":"left","values":[0.125,0.375,0.625,0.875],"grid":true,"gridWidth":0.7,"labels":false,"ticks":false,"domain":false,"title":null}},"y2":{"field":"q3"},"fill":{"field":"g","type":"nominal","scale":{"domain":["BAP","Control"],"range":["#F88F86","#18B2CB"]},"legend":null}}},
    {"data":{"name":"box"},"transform":[{"filter":"datum.c=='Incongruent' && datum.r=='Mouth'"}],"mark":{"type":"tick","size":35,"thickness":2,"color":"#333333","opacity":1},"encoding":{"x":{"field":"g","type":"nominal"},"y":{"field":"med","type":"quantitative","axis":null}}},
    {"data":{"name":"out"},"transform":[{"filter":"datum.c=='Incongruent' && datum.r=='Mouth'"}],"mark":{"type":"circle","size":30,"color":"#000000","opacity":1},"encoding":{"x":{"field":"g","type":"nominal"},"y":{"field":"v","type":"quantitative","axis":null}}},
    {"data":{"name":"pts"},"transform":[{"filter":"datum.c=='Incongruent' && datum.r=='Mouth'"}],"mark":{"type":"circle","size":7,"color":"#000000","opacity":1},"encoding":{"x":{"field":"g","type":"nominal"},"y":{"field":"v","type":"quantitative","axis":null}}}
   ],"resolve":{"axis":{"y":"independent"}}},
   {"width":152,"height":188,"layer":[
    {"data":{"name":"box"},"transform":[{"filter":"datum.c=='Incongruent' && datum.r=='Context'"}],"mark":{"type":"rule","color":"#333333","strokeWidth":1},"encoding":{"x":{"field":"g","type":"nominal","scale":{"type":"point","padding":0.6,"domain":["BAP","Control"]},"axis":{"title":"Context","labelAngle":0,"grid":true}},"y":{"field":"lo","type":"quantitative","scale":{"domain":[-0.05,1.05],"nice":false,"zero":false},"axis":{"title":"Gaze proportion","values":[0,0.25,0.5,0.75,1],"format":".2f","grid":true}},"y2":{"field":"hi"}}},
    {"data":{"name":"box"},"transform":[{"filter":"datum.c=='Incongruent' && datum.r=='Context'"}],"mark":{"type":"bar","width":35,"stroke":"#333333","strokeWidth":1,"fillOpacity":0.85},"encoding":{"x":{"field":"g","type":"nominal"},"y":{"field":"q1","type":"quantitative","axis":{"orient":"left","values":[0.125,0.375,0.625,0.875],"grid":true,"gridWidth":0.7,"labels":false,"ticks":false,"domain":false,"title":null}},"y2":{"field":"q3"},"fill":{"field":"g","type":"nominal","scale":{"domain":["BAP","Control"],"range":["#F88F86","#18B2CB"]},"legend":null}}},
    {"data":{"name":"box"},"transform":[{"filter":"datum.c=='Incongruent' && datum.r=='Context'"}],"mark":{"type":"tick","size":35,"thickness":2,"color":"#333333","opacity":1},"encoding":{"x":{"field":"g","type":"nominal"},"y":{"field":"med","type":"quantitative","axis":null}}},
    {"data":{"name":"out"},"transform":[{"filter":"datum.c=='Incongruent' && datum.r=='Context'"}],"mark":{"type":"circle","size":30,"color":"#000000","opacity":1},"encoding":{"x":{"field":"g","type":"nominal"},"y":{"field":"v","type":"quantitative","axis":null}}},
    {"data":{"name":"pts"},"transform":[{"filter":"datum.c=='Incongruent' && datum.r=='Context'"}],"mark":{"type":"circle","size":7,"color":"#000000","opacity":1},"encoding":{"x":{"field":"g","type":"nominal"},"y":{"field":"v","type":"quantitative","axis":null}}}
   ],"resolve":{"axis":{"y":"independent"}}}
  ]}
]
}
